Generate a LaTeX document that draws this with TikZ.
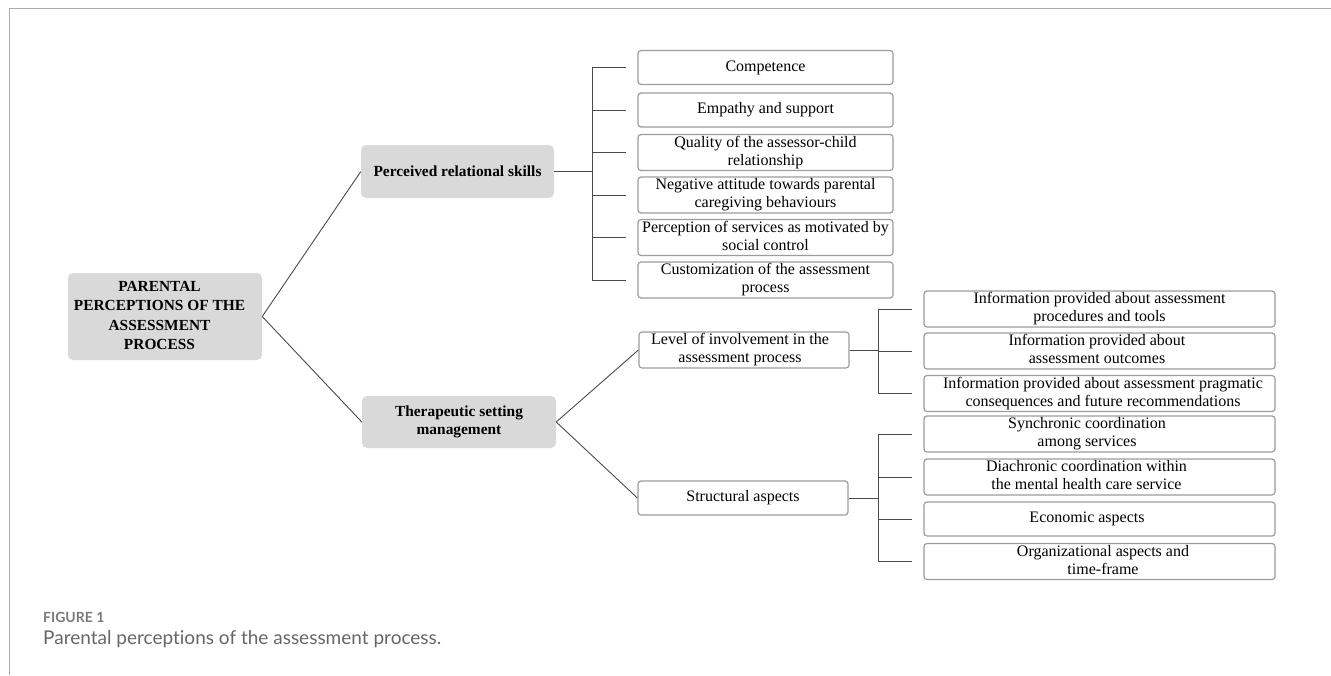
\documentclass[tikz,border=0pt]{standalone}
\usepackage{fontspec}
\setmainfont{Liberation Serif}
\newfontfamily\capfont[Ligatures=NoCommon]{Lato}
\usetikzlibrary{calc}
\definecolor{boxfill}{HTML}{D9D9D9}
\definecolor{boxline}{HTML}{9C9C9C}
\definecolor{conncol}{HTML}{4A4A4A}
\definecolor{framec}{HTML}{ABABAB}
\definecolor{figgray}{HTML}{7A7A7A}
\definecolor{capgray}{HTML}{666666}
\newcommand\shtext[2]{\hspace*{#1}\begin{tabular}{@{}c@{}}#2\end{tabular}}
\begin{document}
\begin{tikzpicture}[x=1pt,y=-1pt,
  gbox/.style={fill=boxfill, rounded corners=5pt, draw=none, inner sep=0pt,
    font=\fontsize{15.4}{18.5}\selectfont\bfseries},
  wbox/.style={draw=boxline, line width=1.2pt, rounded corners=3pt, fill=white,
    inner sep=0pt, minimum height=34pt, font=\fontsize{16}{18}\selectfont},
  topbox/.style={wbox, minimum width=255pt},
  infobox/.style={wbox, minimum width=351pt},
  midbox/.style={wbox, minimum width=210pt},
  link/.style={draw=conncol, line width=0.9pt},
]
\useasboundingbox (0,0) rectangle (1331,675);
% frame
\draw[framec, line width=1pt] (9,675) -- (9,8.5) -- (1331,8.5);

% root and level-1
\node[gbox, minimum width=194pt, minimum height=87pt] (root) at (165,316.5)
  {\renewcommand\arraystretch{1.05}\shtext{-11pt}{PARENTAL\\PERCEPTIONS OF THE\\ASSESSMENT\\PROCESS}};
\node[gbox, minimum width=193pt, minimum height=53pt] (prs) at (457.5,171.5)
  {Perceived relational skills};
\node[gbox, minimum width=194pt, minimum height=52pt] (tsm) at (459,422)
  {\shtext{0pt}{Therapeutic setting\\management}};

% top group
\node[topbox] (c1) at (765.5,67.5) {\shtext{0pt}{Competence}};
\node[topbox] (c2) at (765.5,110) {\shtext{0pt}{Empathy and support}};
\node[topbox] (c3) at (765.5,152.5) {\shtext{0pt}{Quality of the assessor-child\\relationship}};
\node[topbox] (c4) at (765.5,195) {\shtext{0pt}{Negative attitude towards parental\\caregiving behaviours}};
\node[topbox] (c5) at (765.5,237.5) {\shtext{0pt}{Perception of services as motivated by\\social control}};
\node[topbox] (c6) at (765.5,280) {\shtext{0pt}{Customization of the assessment\\process}};

% middle boxes
\node[midbox] (lev) at (744,350) {\shtext{-8pt}{Level of involvement in the\\assessment process}};
\node[midbox] (str) at (743,498) {\shtext{0pt}{Structural aspects}};

% info boxes
\node[infobox] (i1) at (1099.5,309) {\shtext{0pt}{Information provided about assessment\\procedures and tools}};
\node[infobox] (i2) at (1099.5,351) {\shtext{-5pt}{Information provided about\\assessment outcomes}};
\node[infobox] (i3) at (1099.5,393.5) {\shtext{7pt}{Information provided about assessment pragmatic\\consequences and future recommendations}};
\node[infobox] (s1) at (1099.5,434) {\shtext{-25pt}{Synchronic coordination\\among services}};
\node[infobox] (s2) at (1099.5,477) {\shtext{-26pt}{Diachronic coordination within\\the mental health care service}};
\node[infobox] (s3) at (1099.5,519) {\shtext{-25pt}{Economic aspects}};
\node[infobox] (s4) at (1099.5,561.5) {\shtext{7pt}{Organizational aspects and\\time-frame}};

% bus coordinates
\coordinate (b1) at (592,0);
\coordinate (b2) at (878,0);

% connectors
\draw[link] (root.east) -- (prs.west);
\draw[link] (root.east) -- (tsm.west);
\draw[link] (tsm.east) -- (lev.west);
\draw[link] (tsm.east) -- (str.west);

\draw[link] (prs.east) -- (b1 |- prs.east);
\draw[link] (b1 |- c1.west) -- (b1 |- c6.west);
\foreach \n in {c1,c2,c3,c4,c5,c6}
  \draw[link] (b1 |- \n.west) -- ($(\n.west)+(-11,0)$);

\draw[link] (lev.east) -- (b2 |- lev.east);
\draw[link] (b2 |- i1.west) -- (b2 |- i3.west);
\foreach \n in {i1,i2,i3}
  \draw[link] (b2 |- \n.west) -- ($(\n.west)+(-11,0)$);

\draw[link] (str.east) -- (b2 |- str.east);
\draw[link] (b2 |- s1.west) -- (b2 |- s4.west);
\foreach \n in {s1,s2,s3,s4}
  \draw[link] (b2 |- \n.west) -- ($(\n.west)+(-11,0)$);

% caption
\node[anchor=base west, inner sep=0pt, text=figgray,
  font=\capfont\fontsize{14}{16}\selectfont\bfseries] (fig) at (43,622) {FIGURE 1};
\node[anchor=base west, inner sep=0pt, text=capgray,
  font=\capfont\fontsize{19}{23}\selectfont] (cap) at (43,644) {Parental perceptions of the assessment process.};
\end{tikzpicture}
\end{document}
